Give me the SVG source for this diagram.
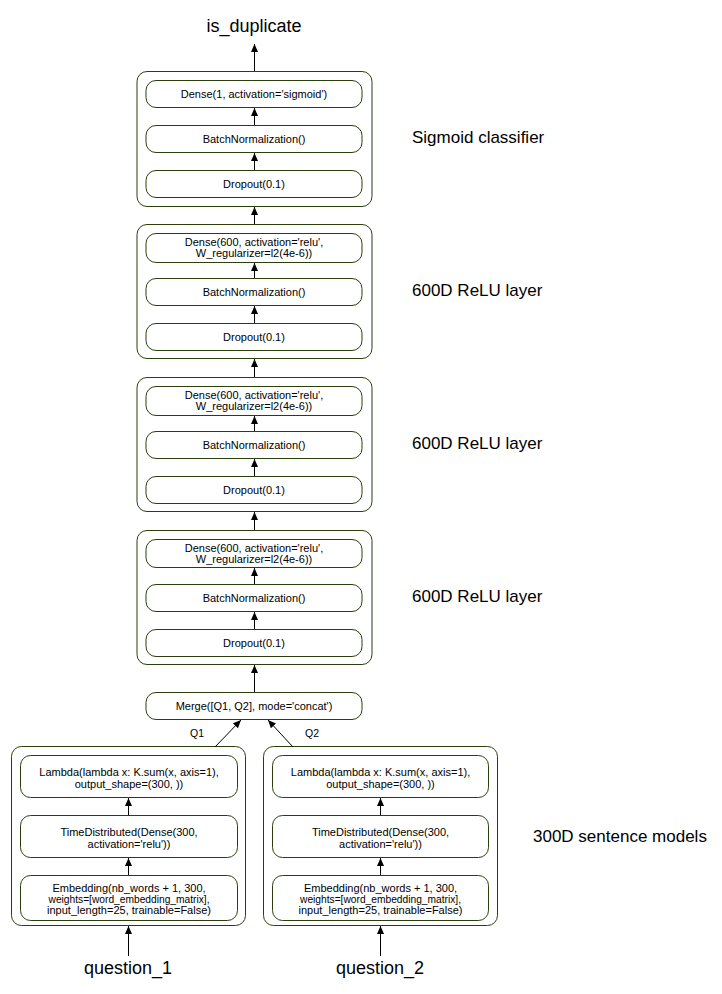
<svg xmlns="http://www.w3.org/2000/svg" width="722" height="994" viewBox="0 0 722 994">
<style>
  .outer { fill: #ffffff; stroke: #2b3f0c; stroke-width: 1; }
  .inner { fill: #ffffff; stroke: #2b3f0c; stroke-width: 1; }
  .t { font-family: "Liberation Sans", Arial, Helvetica, sans-serif; font-size: 11px; fill: #000; text-anchor: middle; }
  .big { font-family: "Liberation Sans", Arial, Helvetica, sans-serif; font-size: 18px; fill: #000; text-anchor: middle; }
  .lab { font-family: "Liberation Sans", Arial, Helvetica, sans-serif; font-size: 17px; fill: #000; }
  .q { font-family: "Liberation Sans", Arial, Helvetica, sans-serif; font-size: 10.5px; fill: #000; text-anchor: middle; }
  .c { stroke: #000; stroke-width: 1; fill: none; marker-end: url(#ah); }
</style>
<defs>
  <marker id="ah" markerUnits="userSpaceOnUse" markerWidth="8" markerHeight="8" refX="8" refY="3.5" orient="auto">
    <path d="M0,0 L8,3.5 L0,7 z" fill="#000"/>
  </marker>
</defs>

<rect width="722" height="994" fill="#ffffff"/>

<!-- Top output label -->
<text id="is_duplicate" class="big" x="254" y="32">is_duplicate</text>

<!-- Block 1: Sigmoid classifier -->
<g id="block1">
  <rect class="outer" x="137" y="71.5" width="235" height="135" rx="10"/>
  <g id="b1_dense"><rect class="inner" x="146" y="80.5" width="216" height="27" rx="10"/>
    <text class="t" x="254" y="98">Dense(1, activation='sigmoid')</text></g>
  <g id="b1_bn"><rect class="inner" x="146" y="125.5" width="216" height="27" rx="10"/>
    <text class="t" x="254" y="143">BatchNormalization()</text></g>
  <g id="b1_drop"><rect class="inner" x="146" y="170.5" width="216" height="27" rx="10"/>
    <text class="t" x="254" y="188">Dropout(0.1)</text></g>
</g>
<text id="lab1" class="lab" x="412" y="143">Sigmoid classifier</text>

<!-- Block 2 -->
<g id="block2">
  <rect class="outer" x="137" y="224.5" width="235" height="134" rx="10"/>
  <g id="b2_dense"><rect class="inner" x="146" y="233.5" width="216" height="29" rx="10"/>
    <text class="t" x="254" y="245.5">Dense(600, activation='relu',</text>
    <text class="t" x="254" y="257">W_regularizer=l2(4e-6))</text></g>
  <g id="b2_bn"><rect class="inner" x="146" y="278.5" width="216" height="27" rx="10"/>
    <text class="t" x="254" y="296">BatchNormalization()</text></g>
  <g id="b2_drop"><rect class="inner" x="146" y="323.5" width="216" height="27" rx="10"/>
    <text class="t" x="254" y="341">Dropout(0.1)</text></g>
</g>
<text id="lab2" class="lab" x="412" y="296">600D ReLU layer</text>

<!-- Block 3 -->
<g id="block3">
  <rect class="outer" x="137" y="377.5" width="235" height="134" rx="10"/>
  <g id="b3_dense"><rect class="inner" x="146" y="386.5" width="216" height="29" rx="10"/>
    <text class="t" x="254" y="398.5">Dense(600, activation='relu',</text>
    <text class="t" x="254" y="410">W_regularizer=l2(4e-6))</text></g>
  <g id="b3_bn"><rect class="inner" x="146" y="431.5" width="216" height="27" rx="10"/>
    <text class="t" x="254" y="449">BatchNormalization()</text></g>
  <g id="b3_drop"><rect class="inner" x="146" y="476.5" width="216" height="27" rx="10"/>
    <text class="t" x="254" y="494">Dropout(0.1)</text></g>
</g>
<text id="lab3" class="lab" x="412" y="449">600D ReLU layer</text>

<!-- Block 4 -->
<g id="block4">
  <rect class="outer" x="137" y="530.5" width="235" height="134" rx="10"/>
  <g id="b4_dense"><rect class="inner" x="146" y="539.5" width="216" height="28" rx="10"/>
    <text class="t" x="254" y="551.5">Dense(600, activation='relu',</text>
    <text class="t" x="254" y="563">W_regularizer=l2(4e-6))</text></g>
  <g id="b4_bn"><rect class="inner" x="146" y="584.5" width="216" height="27" rx="10"/>
    <text class="t" x="254" y="602">BatchNormalization()</text></g>
  <g id="b4_drop"><rect class="inner" x="146" y="629.5" width="216" height="27" rx="10"/>
    <text class="t" x="254" y="647">Dropout(0.1)</text></g>
</g>
<text id="lab4" class="lab" x="412" y="602">600D ReLU layer</text>

<!-- Merge -->
<g id="merge">
  <rect class="inner" x="146" y="692.5" width="216" height="27" rx="10"/>
  <text class="t" x="254" y="710">Merge([Q1, Q2], mode='concat')</text>
</g>

<!-- Sentence model 1 -->
<g id="model1">
  <rect class="outer" x="11.5" y="746.5" width="234" height="179" rx="10"/>
  <g id="m1_lambda"><rect class="inner" x="20.5" y="755.5" width="217" height="42" rx="10"/>
    <text class="t" x="129" y="776">Lambda(lambda x: K.sum(x, axis=1),</text>
    <text class="t" x="129" y="787.5">output_shape=(300, ))</text></g>
  <g id="m1_td"><rect class="inner" x="20.5" y="815.5" width="217" height="42" rx="10"/>
    <text class="t" x="129" y="836">TimeDistributed(Dense(300,</text>
    <text class="t" x="129" y="847.5">activation='relu'))</text></g>
  <g id="m1_emb"><rect class="inner" x="20.5" y="875.5" width="217" height="45" rx="10"/>
    <text class="t" x="129" y="892">Embedding(nb_words + 1, 300,</text>
    <text class="t" x="129" y="903" textLength="161" lengthAdjust="spacingAndGlyphs">weights=[word_embedding_matrix],</text>
    <text class="t" x="129" y="914">input_length=25, trainable=False)</text></g>
</g>

<!-- Sentence model 2 -->
<g id="model2">
  <rect class="outer" x="263.5" y="746.5" width="234" height="179" rx="10"/>
  <g id="m2_lambda"><rect class="inner" x="272.5" y="755.5" width="216" height="42" rx="10"/>
    <text class="t" x="380.5" y="776">Lambda(lambda x: K.sum(x, axis=1),</text>
    <text class="t" x="380.5" y="787.5">output_shape=(300, ))</text></g>
  <g id="m2_td"><rect class="inner" x="272.5" y="815.5" width="216" height="42" rx="10"/>
    <text class="t" x="380.5" y="836">TimeDistributed(Dense(300,</text>
    <text class="t" x="380.5" y="847.5">activation='relu'))</text></g>
  <g id="m2_emb"><rect class="inner" x="272.5" y="875.5" width="216" height="45" rx="10"/>
    <text class="t" x="380.5" y="892">Embedding(nb_words + 1, 300,</text>
    <text class="t" x="380.5" y="903" textLength="161" lengthAdjust="spacingAndGlyphs">weights=[word_embedding_matrix],</text>
    <text class="t" x="380.5" y="914">input_length=25, trainable=False)</text></g>
</g>
<text id="lab5" class="lab" x="533" y="841.5">300D sentence models</text>

<text id="question_1" class="big" x="128" y="974">question_1</text>
<text id="question_2" class="big" x="380" y="974">question_2</text>

<text id="q1label" class="q" x="197" y="737">Q1</text>
<text id="q2label" class="q" x="312" y="737">Q2</text>

<!-- Connectors -->
<g id="connectors">
  <line class="c" x1="254.5" y1="71" x2="254.5" y2="44"/>
  <line class="c" x1="254.5" y1="170" x2="254.5" y2="153"/>
  <line class="c" x1="254.5" y1="125" x2="254.5" y2="108"/>
  <line class="c" x1="254.5" y1="224" x2="254.5" y2="207"/>
  <line class="c" x1="254.5" y1="323" x2="254.5" y2="306"/>
  <line class="c" x1="254.5" y1="278" x2="254.5" y2="263"/>
  <line class="c" x1="254.5" y1="377" x2="254.5" y2="359"/>
  <line class="c" x1="254.5" y1="476" x2="254.5" y2="459"/>
  <line class="c" x1="254.5" y1="431" x2="254.5" y2="416"/>
  <line class="c" x1="254.5" y1="530" x2="254.5" y2="512"/>
  <line class="c" x1="254.5" y1="629" x2="254.5" y2="612"/>
  <line class="c" x1="254.5" y1="584" x2="254.5" y2="568"/>
  <line class="c" x1="254.5" y1="692" x2="254.5" y2="665"/>
  <line class="c" x1="215" y1="747" x2="241" y2="720"/>
  <line class="c" x1="293" y1="747" x2="268" y2="720"/>
  <line class="c" x1="128.5" y1="875" x2="128.5" y2="858"/>
  <line class="c" x1="128.5" y1="815" x2="128.5" y2="798"/>
  <line class="c" x1="380.5" y1="875" x2="380.5" y2="858"/>
  <line class="c" x1="380.5" y1="815" x2="380.5" y2="798"/>
  <line class="c" x1="128.5" y1="956" x2="128.5" y2="926"/>
  <line class="c" x1="380.5" y1="956" x2="380.5" y2="926"/>
</g>
</svg>
